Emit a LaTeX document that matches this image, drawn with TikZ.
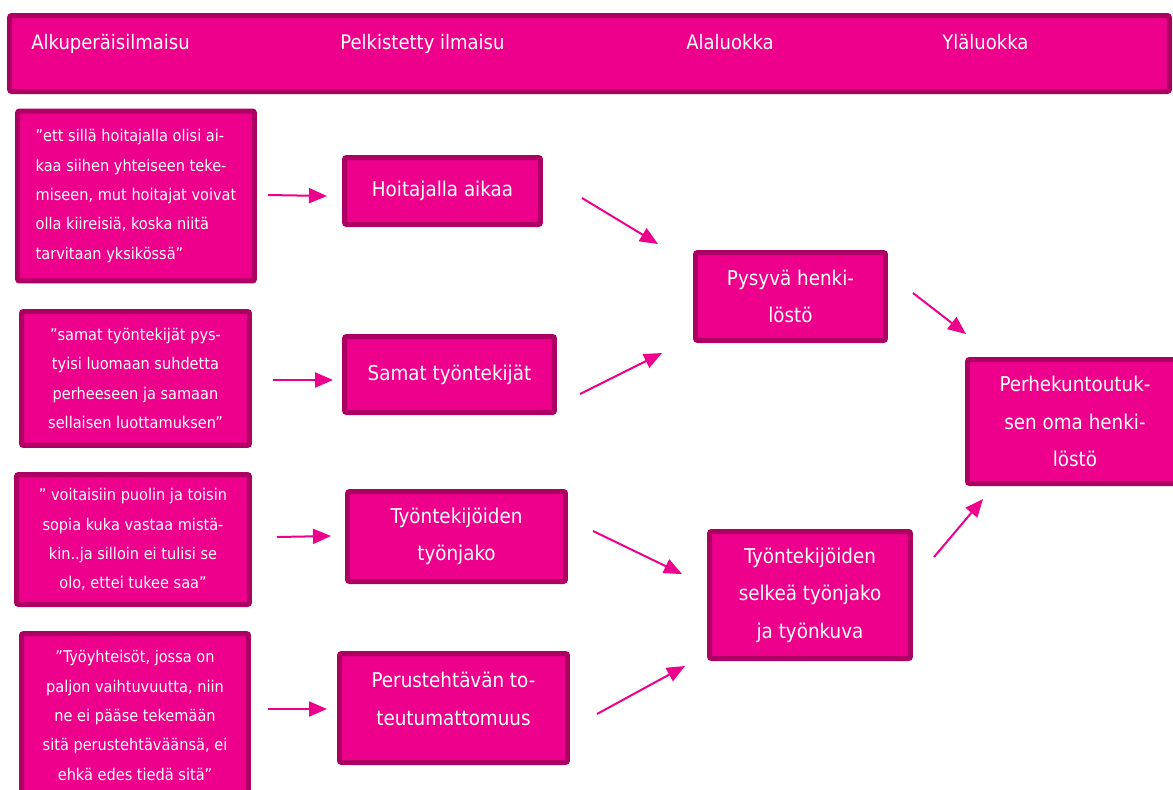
\documentclass[tikz,border=0pt]{standalone}
\usepackage{fontspec}
\setmainfont{DejaVu Sans Condensed}
\usetikzlibrary{arrows.meta}
\definecolor{pinkfill}{RGB}{236,0,140}
\definecolor{pinkline}{RGB}{172,0,98}
\begin{document}
\begin{tikzpicture}[x=0.02cm,y=-0.02cm,
 pbox/.style={draw=pinkline, fill=pinkfill, line width=0.1cm, rounded corners=1.2pt, text=white, inner sep=0pt, align=center},
 qtext/.style={font=\fontsize{9.2}{16.7}\selectfont},
 mtext/.style={font=\fontsize{11.6}{21.3}\selectfont},
 htext/.style={font=\fontsize{11.4}{14}\selectfont, text=white, inner sep=0pt, anchor=base west},
 conn/.style={draw=pinkfill, line width=0.04cm, -{Triangle[length=0.36cm,width=0.30cm]}}]
\useasboundingbox (0,0) rectangle (1173,789);
\clip (0,0) rectangle (1173,789);

% header
\node[pbox, minimum width=23.2cm, minimum height=1.52cm] (hdr) at (589.5,53.5) {};
\node[htext] (h1) at (31,49.5) {Alkuperäisilmaisu};
\node[htext] (h2) at (340,49.5) {Pelkistetty ilmaisu};
\node[htext] (h3) at (686,49.5) {Alaluokka};
\node[htext] (h4) at (942,49.5) {Yläluokka};

% original expressions
\node[pbox, qtext, align=left, minimum width=4.74cm, minimum height=3.40cm] (q1) at (136,196)
 {”ett sillä hoitajalla olisi ai-\\kaa siihen yhteiseen teke-\\miseen, mut hoitajat voivat\\olla kiireisiä, koska niitä\\tarvitaan yksikössä”};
\node[pbox, qtext, minimum width=4.56cm, minimum height=2.68cm] (q2) at (135.5,378.5)
 {”samat työntekijät pys-\\tyisi luomaan suhdetta\\perheeseen ja samaan\\sellaisen luottamuksen”};
\node[pbox, qtext, minimum width=4.66cm, minimum height=2.60cm] (q3) at (133,539.5)
 {” voitaisiin puolin ja toisin\\sopia kuka vastaa mistä-\\kin..ja silloin ei tulisi se\\olo, ettei tukee saa”};
\node[pbox, qtext, minimum width=4.54cm, minimum height=3.28cm] (q4) at (135,715.5)
 {”Työyhteisöt, jossa on\\paljon vaihtuvuutta, niin\\ne ei pääse tekemään\\sitä perustehtäväänsä, ei\\ehkä edes tiedä sitä”};

% simplified expressions
\node[pbox, mtext, minimum width=3.92cm, minimum height=1.34cm] (A) at (442.5,191) {Hoitajalla aikaa};
\node[pbox, mtext, minimum width=4.20cm, minimum height=1.52cm] (B) at (449.5,374.5) {Samat työntekijät};
\node[pbox, mtext, minimum width=4.36cm, minimum height=1.80cm] (C) at (456.5,536.5) {Työntekijöiden\\työnjako};
\node[pbox, minimum width=4.56cm, minimum height=2.18cm] (D) at (453.5,708) {};
\node[mtext, text=white, align=center, inner sep=0pt] (Dt) at (453.5,699) {Perustehtävän to-\\teutumattomuus};

% subcategories
\node[pbox, mtext, minimum width=3.80cm, minimum height=1.76cm] (E) at (790.5,296.5) {Pysyvä henki-\\löstö};
\node[pbox, mtext, minimum width=4.02cm, minimum height=2.54cm] (F) at (810,595) {Työntekijöiden\\selkeä työnjako\\ja työnkuva};

% main category
\node[pbox, mtext, minimum width=4.30cm, minimum height=2.48cm] (G) at (1075,421.5) {Perhekuntoutuk-\\sen oma henki-\\löstö};

% arrow end points
\coordinate (a1s) at (268,195); \coordinate (a1e) at (327,196);
\coordinate (a2s) at (273,380); \coordinate (a2e) at (333,380);
\coordinate (a3s) at (277,537); \coordinate (a3e) at (331,536);
\coordinate (a4s) at (268,709); \coordinate (a4e) at (327,709);
\coordinate (a5s) at (582,198); \coordinate (a5e) at (658,244);
\coordinate (a6s) at (580,394); \coordinate (a6e) at (662,353);
\coordinate (a7s) at (593,531); \coordinate (a7e) at (682,574);
\coordinate (a8s) at (597,714); \coordinate (a8e) at (685,666);
\coordinate (a9s) at (913,293); \coordinate (a9e) at (966,334);
\coordinate (a10s) at (934,557); \coordinate (a10e) at (983,499);

\draw[conn] (a1s) -- (a1e);
\draw[conn] (a2s) -- (a2e);
\draw[conn] (a3s) -- (a3e);
\draw[conn] (a4s) -- (a4e);
\draw[conn] (a5s) -- (a5e);
\draw[conn] (a6s) -- (a6e);
\draw[conn] (a7s) -- (a7e);
\draw[conn] (a8s) -- (a8e);
\draw[conn] (a9s) -- (a9e);
\draw[conn] (a10s) -- (a10e);
\end{tikzpicture}
\end{document}
